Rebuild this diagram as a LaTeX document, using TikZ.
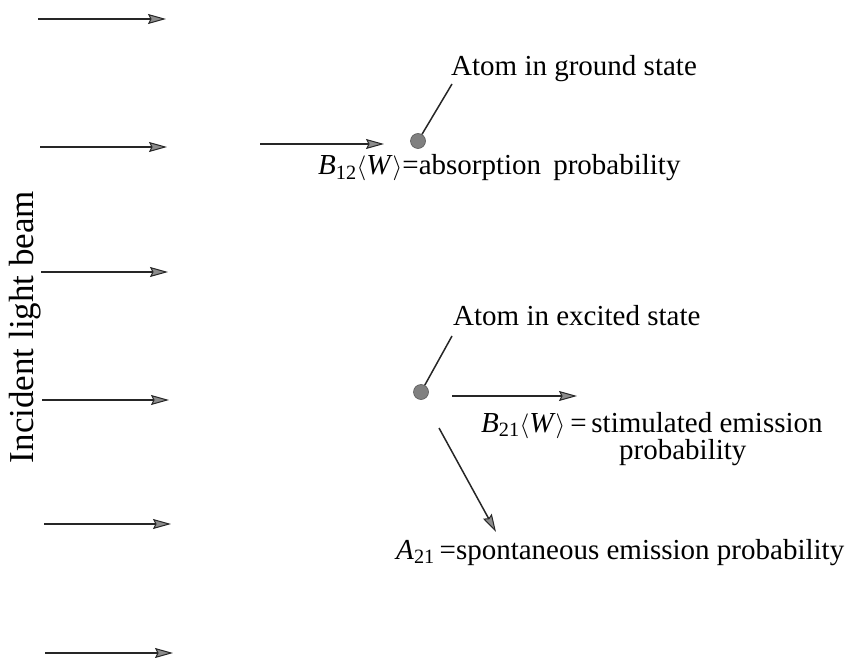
\documentclass[tikz,border=0pt]{standalone}
\usepackage{fontspec}
\setmainfont{Liberation Serif}
\usetikzlibrary{arrows.meta}
\tikzset{
  beamarrow/.style={draw=black!85, line width=1.5pt,
    -{Stealth[length=18pt,width=10pt,inset=2.5pt,fill=black!45,line width=1pt]}},
  atom/.style={circle, fill=black!50, draw=black!65, line width=0.6pt, inner sep=0pt, minimum size=15pt},
  pointer/.style={draw=black!85, line width=1.5pt},
  lbl/.style={font=\fontsize{29}{34}\selectfont, inner sep=0pt, anchor=base west},
}
\newcommand{\brA}{$\langle$}
\newcommand{\brB}{$\rangle$}
\begin{document}
\begin{tikzpicture}[x=1pt,y=-1pt]
\useasboundingbox (0,0) rectangle (854,658);
% incident beam arrows
\coordinate (l1s) at (38,19);  \coordinate (l1e) at (166,19);
\coordinate (l2s) at (40,147); \coordinate (l2e) at (167,147);
\coordinate (l3s) at (41,272); \coordinate (l3e) at (168,272);
\coordinate (l4s) at (42,400); \coordinate (l4e) at (169,400);
\coordinate (l5s) at (44,524); \coordinate (l5e) at (171,524);
\coordinate (l6s) at (45,653); \coordinate (l6e) at (173,653);
\foreach \i in {1,...,6} \draw[beamarrow] (l\i s) -- (l\i e);
\node[rotate=90, font=\fontsize{35}{40}\selectfont, inner sep=0pt] (beam) at (25,327) {Incident light beam};

% ground state atom
\node[atom] (ga) at (418,141) {};
\coordinate (gin) at (260,144);
\coordinate (gend) at (384,144);
\draw[beamarrow] (gin) -- (gend);
\coordinate (gtip) at (452,84);
\draw[pointer] (ga) -- (gtip);
\node[lbl] (gl) at (451,76) {Atom in ground state};
\node[lbl] (abs) at (318,175) {\textit{B}\textsubscript{12}\brA\textit{W}\brB=absorption\, probability};

% excited state atom
\node[atom] (ea) at (421,392) {};
\coordinate (etip) at (452,336);
\draw[pointer] (ea) -- (etip);
\node[lbl] (el) at (453,325) {Atom in excited state};
\coordinate (sts) at (452,396); \coordinate (ste) at (577,396);
\draw[beamarrow] (sts) -- (ste);
\node[lbl] (stim) at (481,432) {\textit{B}\textsubscript{21}\brA\textit{W}\brB\,=\,stimulated emission};
\node[lbl] (stim2) at (619,459) {probability};
\coordinate (sps) at (439,428); \coordinate (spe) at (496,532);
\draw[beamarrow] (sps) -- (spe);
\node[lbl] (spon) at (396,559) {\textit{A}\textsubscript{21}\,=spontaneous emission probability};
\end{tikzpicture}
\end{document}
